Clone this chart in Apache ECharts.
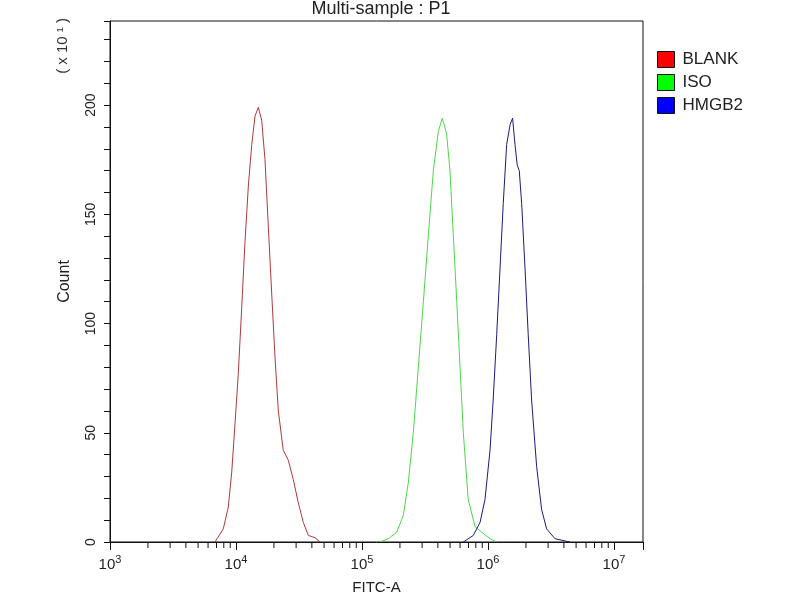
<!DOCTYPE html>
<html>
<head>
<meta charset="utf-8">
<script src="https://cdn.jsdelivr.net/npm/echarts@6/dist/echarts.min.js"></script>
<style>html,body{margin:0;padding:0;background:#fff;}#c{width:800px;height:600px;}</style>
</head>
<body>
<div id="c"></div>
<script>
// ---- data (x given as log10 of FITC-A, y = count in units of x10^1) ----
const blankLogX = [3.833,3.899,3.939,3.966,3.992,4.018,4.045,4.071,4.098,4.125,4.151,4.177,4.204,4.230,4.256,4.283,4.310,4.336,4.375,4.415,4.455,4.494,4.534,4.574,4.627,4.667];
const blankY    = [0,6,16,32,54,77,107,137,163,182,195,199,193,175,145,114,84,60,42,37.5,28.5,18,9,3,2,0];
const isoLogX   = [5.143,5.209,5.275,5.327,5.367,5.407,5.447,5.487,5.526,5.566,5.606,5.637,5.671,5.698,5.725,5.752,5.778,5.804,5.843,5.897,5.949,6.016,6.069];
const isoY      = [0,1.5,4.5,12,27,50,80,110,140,170,188,194,187,170,140,110,80,50,19.5,7,4.5,1.5,0];
const hmgbLogX  = [5.804,5.883,5.937,5.976,6.016,6.041,6.069,6.095,6.121,6.148,6.175,6.195,6.214,6.232,6.248,6.267,6.294,6.319,6.346,6.386,6.425,6.465,6.532,6.611,6.651];
const hmgbY     = [0,3,9,19.5,42,65,95,125,155,182,191,194,182,172.5,170,155,125,95,65,34.5,15,6,1.5,0.5,0];
const seriesNames = ['BLANK','ISO','HMGB2'];
const xMajorTicks = [1e3,1e4,1e5,1e6,1e7];
const xMinorTicks = [2e3,3e3,4e3,5e3,6e3,7e3,8e3,9e3,2e4,3e4,4e4,5e4,6e4,7e4,8e4,9e4,2e5,3e5,4e5,5e5,6e5,7e5,8e5,9e5,2e6,3e6,4e6,5e6,6e6,7e6,8e6,9e6];
const yLabels = [0,50,100,150,200];
const xMin = 1e3, xMax = Math.pow(10, 7.23), yMax = 238.5, yTickStep = 10;

const toPts = (lx, ys) => lx.map((e, i) => [Math.pow(10, e), ys[i]]);
const FONT = 'Liberation Sans';
const chart = echarts.init(document.getElementById('c'));
const lineColors = ['#b03a3a', '#4cd84c', '#1c1c7a'];
const legendColors = ['#ff0000', '#00ff00', '#0000ff'];

chart.setOption({
  animation: false,
  backgroundColor: '#fff',
  title: {
    text: 'Multi-sample : P1', left: 376, top: -5, textAlign: 'center',
    textStyle: { fontFamily: FONT, fontSize: 18, fontWeight: 'normal', color: '#222' }
  },
  legend: {
    orient: 'vertical', left: 657, top: 51, itemWidth: 17, itemHeight: 16, itemGap: 6, padding: 0,
    textStyle: { fontFamily: FONT, fontSize: 17, color: '#222', padding: [0, 0, 0, 3] },
    data: seriesNames.map((n, i) => ({
      name: n, icon: 'rect',
      itemStyle: { color: legendColors[i], borderColor: '#111', borderWidth: 1 }
    }))
  },
  graphic: [{
    type: 'text', left: 55, top: 18, rotation: Math.PI / 2,
    style: { text: '( x 10 ¹ )', fontFamily: FONT, fontSize: 15, fill: '#333' }
  }],
  grid: { left: 110, right: 157, top: 21, bottom: 52, show: true, borderColor: '#111', borderWidth: 1 },
  xAxis: {
    type: 'log', logBase: 10, min: xMin, max: xMax,
    name: 'FITC-A', nameLocation: 'middle', nameGap: 38,
    nameTextStyle: { fontFamily: FONT, fontSize: 15, color: '#222' },
    axisLine: { lineStyle: { color: '#111' } },
    axisTick: { show: true, length: 8, lineStyle: { color: '#111' } },
    splitLine: { show: false },
    axisLabel: {
      customValues: xMajorTicks, margin: 12, color: '#222',
      formatter: v => '{b|10}{s|' + Math.round(Math.log10(v)) + '}',
      rich: {
        b: { fontFamily: FONT, fontSize: 15, color: '#222', lineHeight: 18, verticalAlign: 'bottom' },
        s: { fontFamily: FONT, fontSize: 11, color: '#222', lineHeight: 18, verticalAlign: 'top' }
      }
    }
  },
  yAxis: {
    type: 'value', min: 0, max: yMax, interval: yTickStep,
    name: 'Count', nameLocation: 'middle', nameGap: 37, nameRotate: 90,
    nameTextStyle: { fontFamily: FONT, fontSize: 16, color: '#222' },
    axisLine: { show: true, lineStyle: { color: '#111' } },
    axisTick: { show: true, length: 6, lineStyle: { color: '#111' } },
    splitLine: { show: false },
    axisLabel: { customValues: yLabels, rotate: 90, margin: 12, fontFamily: FONT, fontSize: 14, color: '#222' }
  },
  series: [
    { name: seriesNames[0], type: 'line', data: toPts(blankLogX, blankY), showSymbol: false, lineStyle: { width: 1, color: lineColors[0] }, itemStyle: { color: lineColors[0] } },
    { name: seriesNames[1], type: 'line', data: toPts(isoLogX, isoY), showSymbol: false, lineStyle: { width: 1, color: lineColors[1] }, itemStyle: { color: lineColors[1] } },
    { name: seriesNames[2], type: 'line', data: toPts(hmgbLogX, hmgbY), showSymbol: false, lineStyle: { width: 1, color: lineColors[2] }, itemStyle: { color: lineColors[2] } },
    {
      type: 'custom', silent: true, clip: false,
      data: xMinorTicks.map(v => [v, 0]),
      renderItem: (params, api) => {
        const p = api.coord([api.value(0), 0]);
        return { type: 'line', shape: { x1: p[0], y1: p[1], x2: p[0], y2: p[1] + 6 }, style: { stroke: '#111', lineWidth: 1 } };
      }
    }
  ]
});
</script>
</body>
</html>
